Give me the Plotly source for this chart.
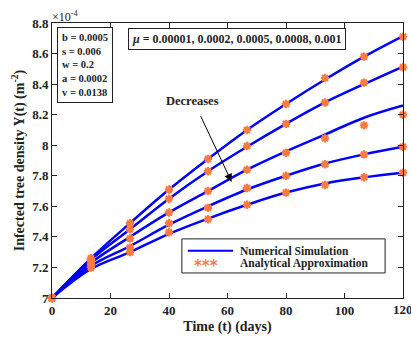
import plotly.graph_objects as go

# time points (days)
t = [0, 13.33, 26.67, 40, 53.33, 66.67, 80, 93.33, 106.67, 120]
mu_values = ["0.00001", "0.0002", "0.0005", "0.0008", "0.001"]

# Numerical simulation, Y(t) in units of 1e-4 m^-2
num_series = [
    [7.0, 7.26, 7.49, 7.71, 7.91, 8.10, 8.27, 8.43, 8.58, 8.715],
    [7.0, 7.25, 7.45, 7.65, 7.83, 7.99, 8.14, 8.28, 8.40, 8.515],
    [7.0, 7.23, 7.40, 7.56, 7.70, 7.84, 7.96, 8.07, 8.18, 8.26],
    [7.0, 7.21, 7.34, 7.48, 7.60, 7.71, 7.80, 7.88, 7.94, 7.99],
    [7.0, 7.19, 7.30, 7.42, 7.52, 7.61, 7.69, 7.75, 7.79, 7.82],
]
# Analytical approximation
ana_series = [
    [7.0, 7.26, 7.49, 7.71, 7.91, 8.10, 8.27, 8.44, 8.58, 8.71],
    [7.0, 7.25, 7.45, 7.65, 7.83, 7.995, 8.14, 8.28, 8.41, 8.51],
    [7.0, 7.24, 7.39, 7.56, 7.70, 7.84, 7.95, 8.045, 8.13, 8.20],
    [7.0, 7.22, 7.33, 7.49, 7.59, 7.72, 7.80, 7.875, 7.94, 7.99],
    [7.0, 7.20, 7.30, 7.43, 7.515, 7.61, 7.69, 7.74, 7.79, 7.82],
]

x_ticks = [0, 20, 40, 60, 80, 100, 120]
y_ticks = [7, 7.2, 7.4, 7.6, 7.8, 8, 8.2, 8.4, 8.6, 8.8]

FONT = "Liberation Serif"
BLUE = "#0000FF"
ORANGE = "#FF7A40"

fig = go.Figure()
for ys in num_series:
    fig.add_trace(go.Scatter(x=t, y=ys, mode="lines", line=dict(color=BLUE, width=2.5, shape="spline"),
                             showlegend=False, cliponaxis=False))
for ys in ana_series:
    fig.add_trace(go.Scatter(x=t, y=ys, mode="markers",
                             marker=dict(symbol="asterisk-open", size=7, color=ORANGE,
                                         line=dict(color=ORANGE, width=2.2)),
                             showlegend=False, cliponaxis=False))

axis_common = dict(showline=True, linecolor="#222", linewidth=1, mirror="ticks",
                   ticks="inside", ticklen=5, tickcolor="#222", showgrid=False, zeroline=False,
                   automargin=False,
                   tickfont=dict(family=FONT, size=13, color="#222"))

fig.update_xaxes(range=[0, 120], tickvals=x_ticks, ticktext=["<b>%d</b>" % v for v in x_ticks],
                 title=dict(text="<b>Time (t) (days)</b>", font=dict(family=FONT, size=14, color="#222"), standoff=4),
                 **axis_common)
fig.update_yaxes(range=[7, 8.8], tickvals=y_ticks, ticktext=["<b>%g</b>" % v for v in y_ticks],
                 title=dict(text="<b>Infected tree density Y(t) (m<sup>-2</sup>)</b>",
                            font=dict(family=FONT, size=14, color="#222"), standoff=4),
                 **axis_common)

annos = [
    dict(x=0, y=1, xref="paper", yref="paper", xanchor="left", yanchor="bottom", showarrow=False,
         text="×10<sup>-4</sup>", font=dict(family=FONT, size=12, color="#222"), xshift=-2, yshift=-3),
    dict(x=x_ticks[-1], y=0, xref="x", yref="paper", xanchor="center", yanchor="top", showarrow=False,
         text="<b>%d</b>" % x_ticks[-1], font=dict(family=FONT, size=13, color="#222"), yshift=-2),
    dict(x=0.014, y=0.985, xref="paper", yref="paper", xanchor="left", yanchor="top", showarrow=False,
         align="left", bordercolor="#222", borderwidth=1, borderpad=4, bgcolor="white",
         text="<b>b = 0.0005<br>s = 0.006<br>w = 0.2<br>a = 0.0002<br>v = 0.0138</b>",
         font=dict(family=FONT, size=10.5, color="#222")),
    dict(x=0.217, y=0.982, xref="paper", yref="paper", xanchor="left", yanchor="top", showarrow=False,
         bordercolor="#222", borderwidth=1, borderpad=3, bgcolor="white",
         text="<b><i>μ</i> = " + ", ".join(mu_values) + "</b>",
         font=dict(family=FONT, size=12, color="#222")),
    dict(x=48.2, y=8.29, xref="x", yref="y", showarrow=False, text="<b>Decreases</b>",
         font=dict(family=FONT, size=12.5, color="#222")),
    dict(x=61.4, y=7.76, ax=50.6, ay=8.20, xref="x", yref="y", axref="x", ayref="y",
         showarrow=True, arrowhead=2, arrowsize=1.6, arrowwidth=1, arrowcolor="black", text=""),
    # legend texts
    dict(x=0.530, y=0.172, xref="paper", yref="paper", xanchor="left", yanchor="middle", showarrow=False,
         text="<b>Numerical Simulation</b>", font=dict(family=FONT, size=11.5, color="#222")),
    dict(x=0.530, y=0.124, xref="paper", yref="paper", xanchor="left", yanchor="middle", showarrow=False,
         text="<b>Analytical Approximation</b>", font=dict(family=FONT, size=11.5, color="#222")),
    dict(x=0.439, y=0.115, xref="paper", yref="paper", xanchor="center", yanchor="middle", showarrow=False,
         text="<b>***</b>", font=dict(family="DejaVu Sans", size=15, color=ORANGE)),
]

shapes = [
    dict(type="rect", xref="paper", yref="paper", x0=0.370, x1=0.949, y0=0.091, y1=0.215,
         line=dict(color="#222", width=1), fillcolor="white", layer="above"),
    dict(type="line", xref="paper", yref="paper", x0=0.387, x1=0.516, y0=0.172, y1=0.172,
         line=dict(color=BLUE, width=2)),
]

fig.update_layout(width=411, height=340, margin=dict(l=52, r=8, t=23, b=42),
                  plot_bgcolor="white", paper_bgcolor="white", annotations=annos, shapes=shapes,
                  showlegend=False)
fig.write_html("out.html", config={"displayModeBar": False},
               post_script="document.body.style.margin='0';document.body.style.overflow='hidden';")
